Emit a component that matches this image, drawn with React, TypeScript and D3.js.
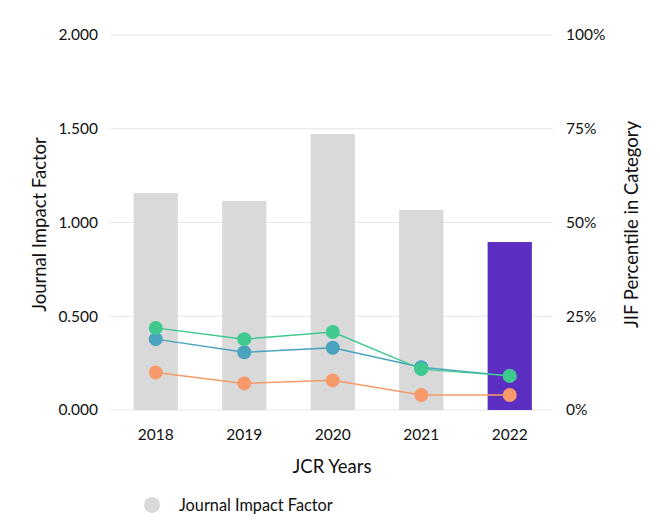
import React from "react";
import * as d3 from "d3";

const years = ["2018", "2019", "2020", "2021", "2022"];
const jif = [1.157, 1.115, 1.472, 1.067, 0.896];
const greenPct = [21.9, 18.9, 20.8, 10.9, 9.1];
const bluePct = [18.9, 15.4, 16.6, 11.4, 9.1];
const orangePct = [10.0, 7.1, 7.9, 4.0, 4.0];
const leftTicks = [0, 0.5, 1, 1.5, 2];
const rightTicks = [0, 25, 50, 75, 100];

const W = 660;
const H = 523;
const x0 = 111.5;
const x1 = 554;
const yTop = 35;
const yBot = 410;
const FONT = "Lato, 'Open Sans', sans-serif";

export default function App() {
  const x = d3.scaleBand<string>().domain(years).range([x0, x1]).paddingInner(0.5).paddingOuter(0.25);
  const yL = d3.scaleLinear().domain([0, 2]).range([yBot, yTop]);
  const yR = d3.scaleLinear().domain([0, 100]).range([yBot, yTop]);
  const cx = (y: string) => (x(y) as number) + x.bandwidth() / 2;
  const line = d3
    .line<number>()
    .x((_, i) => cx(years[i]))
    .y((d) => yR(d));
  const series = [
    { vals: orangePct, color: "#f79a6b" },
    { vals: bluePct, color: "#4aa3bf" },
    { vals: greenPct, color: "#3ec98e" },
  ];
  return (
    <svg
      width={W}
      height={H}
      style={{ position: "absolute", left: 0, top: 0, fontFamily: FONT }}
    >
      <rect width={W} height={H} fill="#fff" />
      {leftTicks.map((t) => (
        <g key={t}>
          <line x1={110} x2={553} y1={yL(t)} y2={yL(t)} stroke="#e6e6e6" strokeWidth={1} />
          <text x={98} y={yL(t)} dy="0.35em" textAnchor="end" fontSize={15.5} fill="#111">
            {d3.format(".3f")(t)}
          </text>
        </g>
      ))}
      {rightTicks.map((t) => (
        <text key={t} x={566} y={yR(t)} dy="0.35em" textAnchor="start" fontSize={15.5} fill="#111">
          {t}%
        </text>
      ))}
      {years.map((yr, i) => (
        <rect
          key={yr}
          x={x(yr)}
          width={x.bandwidth()}
          y={yL(jif[i])}
          height={yBot - yL(jif[i])}
          fill={i === years.length - 1 ? "#5c2fc2" : "#d9d9d9"}
        />
      ))}
      {series.map((s, k) => (
        <g key={k}>
          <path d={line(s.vals) || ""} fill="none" stroke={s.color} strokeWidth={1.5} />
          {s.vals.map((v, i) => (
            <circle key={i} cx={cx(years[i])} cy={yR(v)} r={7} fill={s.color} />
          ))}
        </g>
      ))}
      {years.map((yr) => (
        <text key={yr} x={cx(yr)} y={435} dy="0.35em" textAnchor="middle" fontSize={15.5} fill="#111">
          {yr}
        </text>
      ))}
      <text x={332} y={467} dy="0.35em" textAnchor="middle" fontSize={18.5} fill="#111">
        JCR Years
      </text>
      <text
        transform={`translate(40,${(yTop + yBot) / 2 + 2}) rotate(-90)`}
        textAnchor="middle"
        dy="0.35em"
        fontSize={18.5}
        fill="#111"
      >
        Journal Impact Factor
      </text>
      <text
        transform={`translate(632,${(yTop + yBot) / 2 + 2}) rotate(-90)`}
        textAnchor="middle"
        dy="0.35em"
        fontSize={18.5}
        fill="#111"
      >
        JIF Percentile in Category
      </text>
      <circle cx={152} cy={505} r={8} fill="#d9d9d9" />
      <text x={179} y={505} dy="0.35em" fontSize={16.3} fill="#111">
        Journal Impact Factor
      </text>
    </svg>
  );
}
